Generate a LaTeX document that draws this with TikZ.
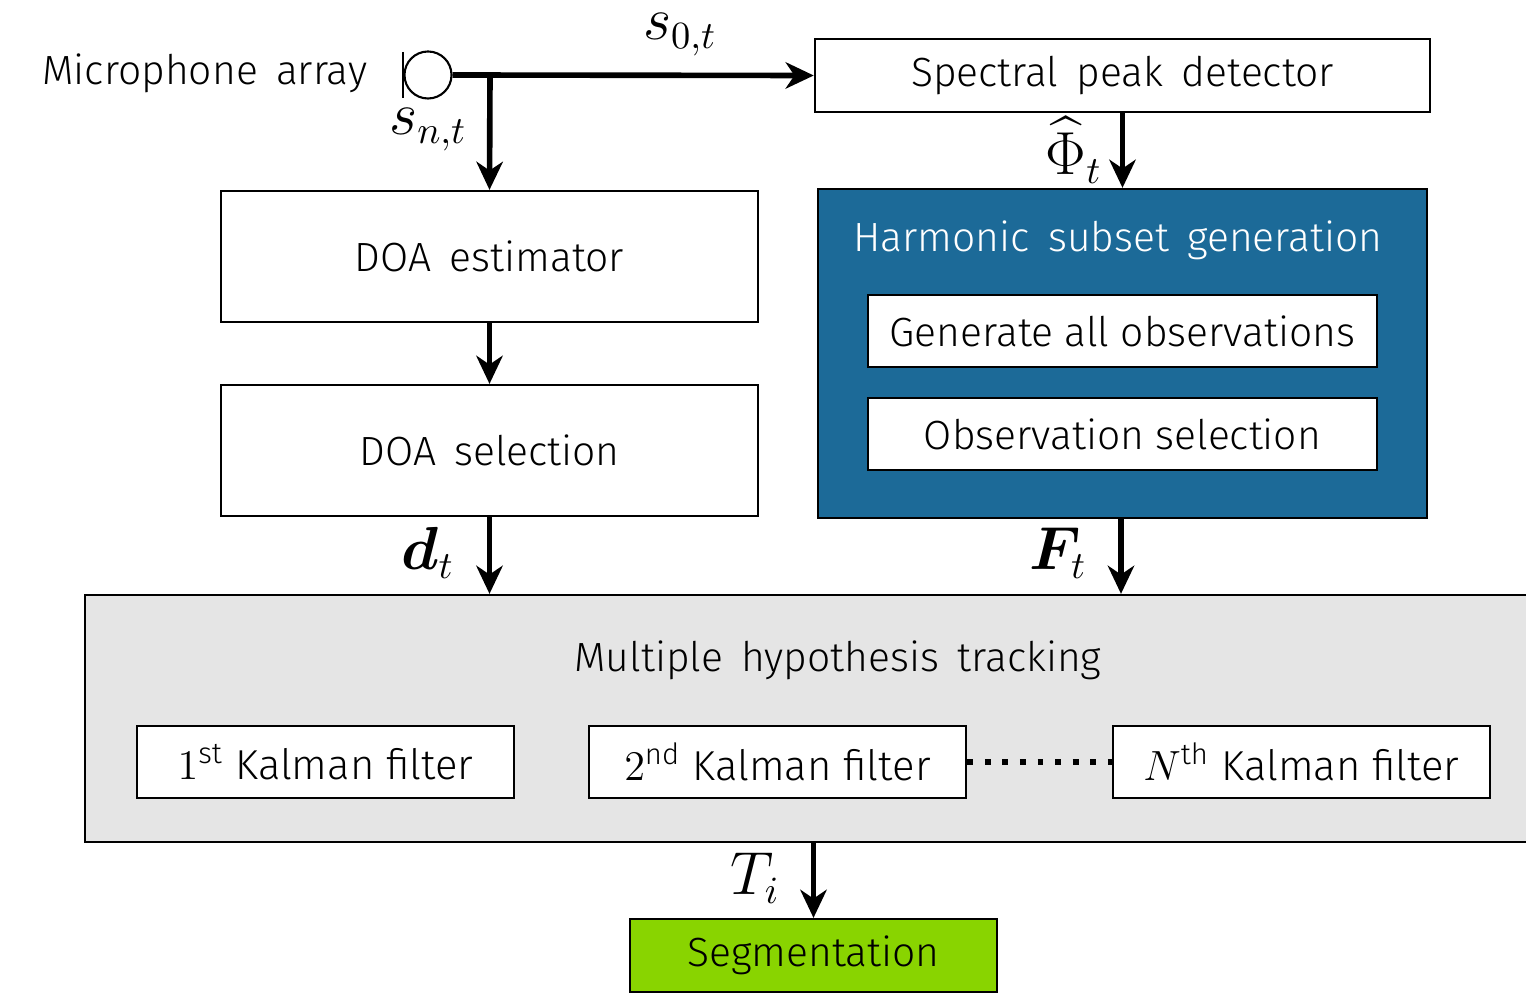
\documentclass[tikz,border=0pt]{standalone}
\usepackage{amsmath,amssymb}
\usepackage{bm}
\usepackage[no-math]{fontspec}
\setmainfont{Fira Sans}[UprightFont=* Light]
\newfontfamily\widefont{Fira Sans}[UprightFont=* Light, WordSpace=1.6]
\usepackage{xcolor}
\usetikzlibrary{arrows.meta, positioning, calc}

\definecolor{harmblue}{RGB}{28,106,152}
\definecolor{mhtgray}{RGB}{229,229,229}
\definecolor{seggreen}{RGB}{137,212,0}

\newcommand{\txtsize}{\fontsize{11.6}{14}\selectfont}
\newcommand{\symsize}{\fontsize{16}{18}\selectfont}

\begin{document}
\begin{tikzpicture}[
    x=0.01cm, y=-0.01cm,
    box/.style={rectangle, draw, line width=0.6pt, fill=white, align=center, inner sep=0pt, font=\txtsize},
    wide/.style={font=\txtsize\widefont},
    arrow/.style={-{Stealth[length=8pt, width=7.5pt, inset=2.5pt]}, line width=1.6pt},
    sym/.style={font=\symsize, inner sep=1pt},
    dots/.style={line width=1.7pt, dash pattern=on 1.7pt off 3.3pt}
]
\useasboundingbox (0,0) rectangle (1526,994);

% Microphone array
\node[wide, anchor=east, inner sep=0pt] (miclabel) at (368,73) {Microphone array};
\node[circle, draw, line width=0.6pt, minimum size=0.47cm, inner sep=0pt] (mic) at (428,75) {};
\draw[line width=0.6pt] ([yshift=0.23cm]mic.west) -- ([yshift=-0.23cm]mic.west);
\coordinate (split) at (490,75);

% Spectral peak detector and harmonic subset generation
\node[box, wide, minimum width=6.15cm, minimum height=0.73cm] (peak) at (1122.5,75.5) {Spectral peak detector};
\node[box, fill=harmblue, minimum width=6.09cm, minimum height=3.29cm] (harmonic) at (1122.5,353.5) {};
\node[wide, text=white] (harmtitle) at (1118,240) {Harmonic subset generation};
\node[box, minimum width=5.09cm, minimum height=0.72cm] (genobs) at (1122.5,331) {Generate all observations};
\node[box, minimum width=5.09cm, minimum height=0.72cm] (obssel) at (1122.5,434) {Observation selection};

% DOA branch
\node[box, wide, minimum width=5.37cm, minimum height=1.31cm] (doaest) at (489.5,256.5) {DOA estimator};
\node[box, wide, minimum width=5.37cm, minimum height=1.31cm] (doasel) at (489.5,450.5) {DOA selection};

% Multiple hypothesis tracking
\node[box, fill=mhtgray, minimum width=14.45cm, minimum height=2.47cm] (mht) at (807.5,718.5) {};
\node[wide] (mhttitle) at (838,660) {Multiple hypothesis tracking};
\node[box, font=\fontsize{11.9}{14}\selectfont, minimum width=3.77cm, minimum height=0.72cm] (kf1) at (325.5,762) {$1^{\text{st}}$ Kalman filter};
\node[box, font=\fontsize{11.9}{14}\selectfont, minimum width=3.77cm, minimum height=0.72cm] (kf2) at (777.5,762) {$2^{\text{nd}}$ Kalman filter};
\node[box, font=\fontsize{11.9}{14}\selectfont, minimum width=3.77cm, minimum height=0.72cm] (kfn) at (1301.5,762) {$N^{\text{th}}$ Kalman filter};

% Segmentation
\node[box, fill=seggreen, minimum width=3.67cm, minimum height=0.73cm] (seg) at (813.5,955.5) {Segmentation};

% Arrows
\draw[arrow] (mic.east) -- (peak.west);
\draw[arrow] (split) -- (doaest.north);
\draw[arrow] (peak.south) -- (harmonic.north);
\draw[arrow] (doaest.south) -- (doasel.north);
\draw[arrow] (doasel.south) -- (doasel.south |- mht.north);
\draw[arrow] ([xshift=-0.015cm]harmonic.south) -- ([xshift=-0.015cm]harmonic.south |- mht.north);
\draw[arrow] (seg.north |- mht.south) -- (seg.north);
\draw[dots] (kf2.east) -- (kfn.west);

% Signal labels
\node[sym] (s0) at (680,35) {$s_{0,t}$};
\node[sym] (sn) at (428,130) {$s_{n,t}$};
\node[sym] (phi) at (1074,150) {$\widehat{\Phi}_t$};
\node[sym] (dt) at (428,553) {$\bm{d}_t$};
\node[sym] (ft) at (1058,553) {$\bm{F}_t$};
\node[sym] (ti) at (755,878) {$T_i$};
\end{tikzpicture}
\end{document}
